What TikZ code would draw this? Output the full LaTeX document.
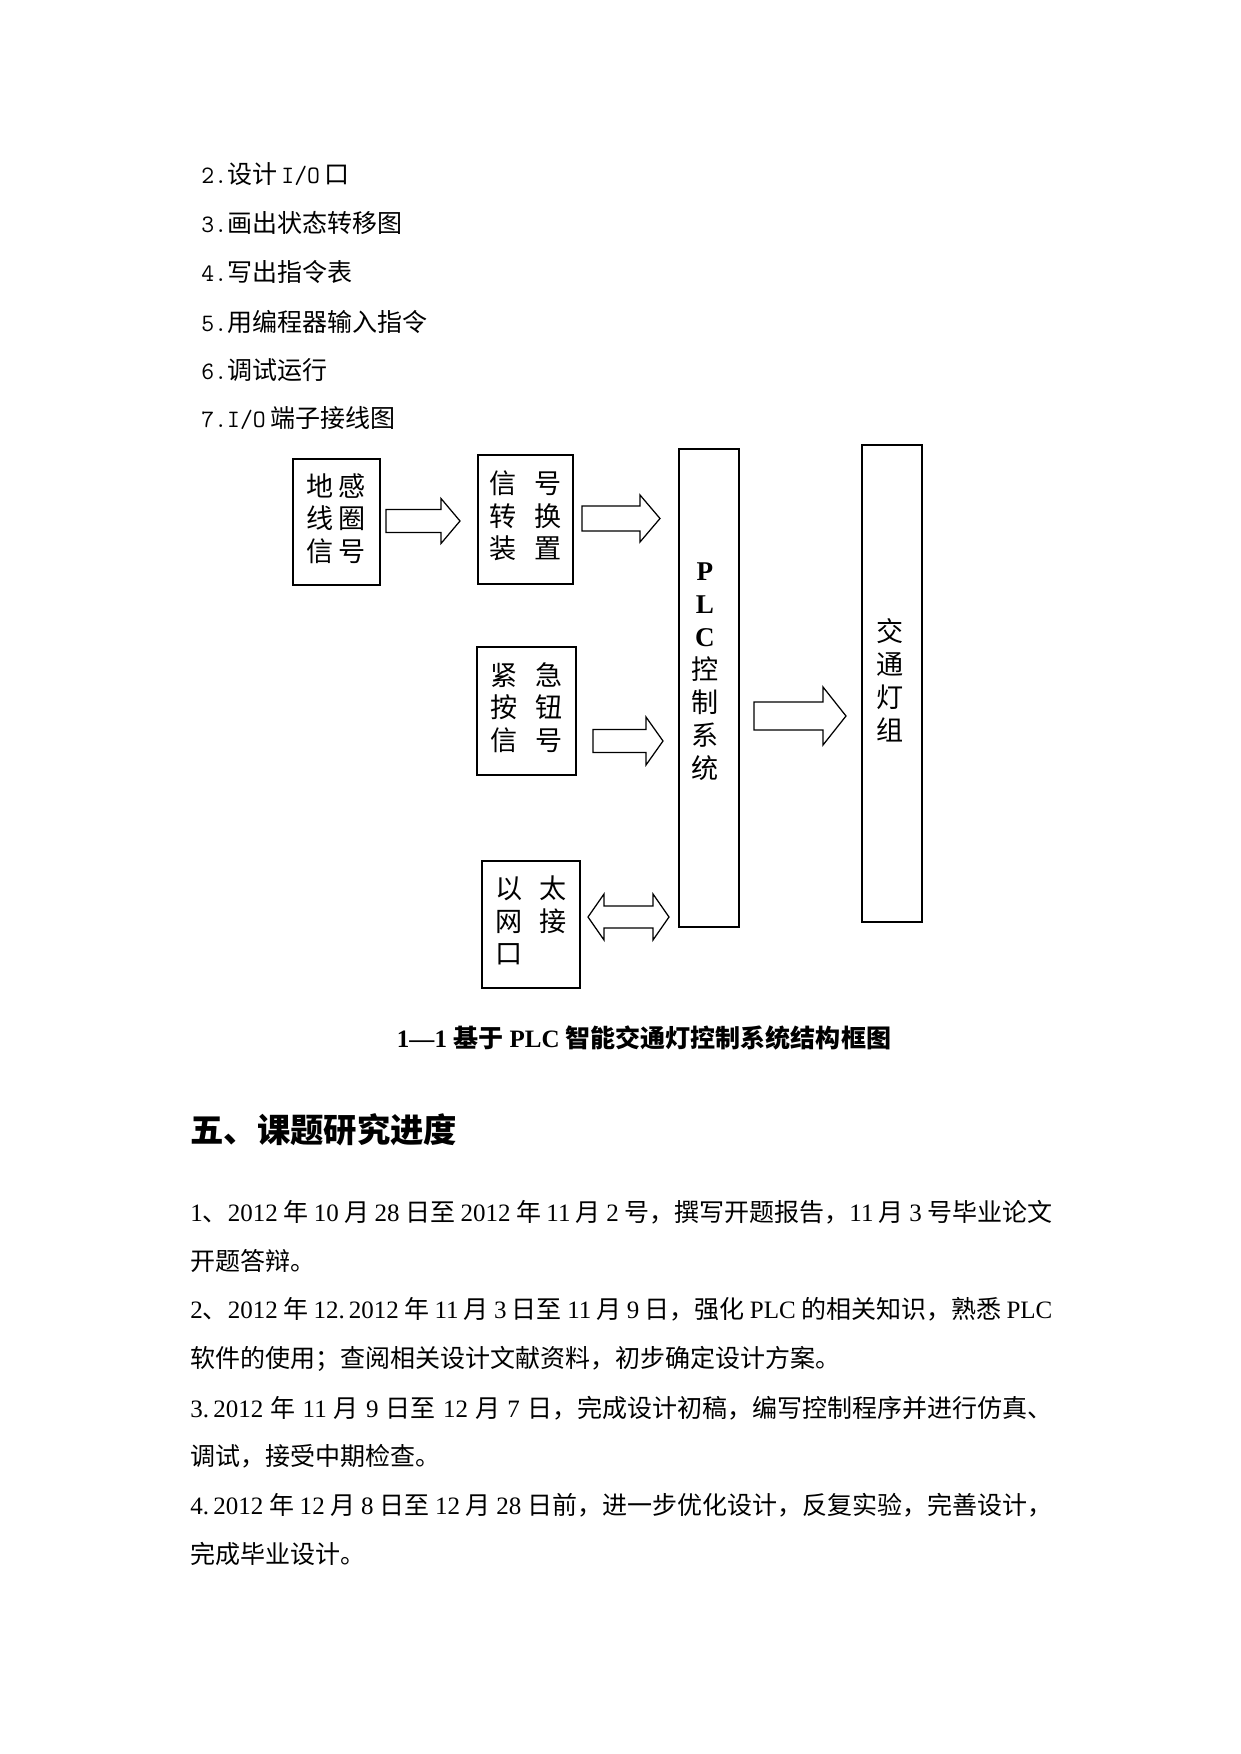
\documentclass[tikz,border=0pt]{standalone}
\usepackage{fontspec}
\setmainfont{Liberation Serif}
\newfontfamily\cjk{Noto Sans CJK SC}
\newcommand\zh[1]{{\cjk #1}}
\newcommand\pxu{0.4797pt}
% right-pointing block arrow: x0, head base x, tip x, centre y, half shaft, half head
\newcommand\rblockarrow[6]{\draw[barrow] (#1,#4-#5) -- (#2,#4-#5) -- (#2,#4-#6) -- (#3,#4) -- (#2,#4+#6) -- (#2,#4+#5) -- (#1,#4+#5) -- cycle;}
\begin{document}
\begin{tikzpicture}[x=0.4797pt,y=-0.4797pt,
  box/.style={draw, line width=1pt, inner sep=0pt, align=center},
  barrow/.style={draw, line width=0.6pt, line join=miter},
  boxtxt/.style={font=\fontsize{13}{15.5}\selectfont\cjk},
  tallTxt/.style={font=\fontsize{13}{15.8}\selectfont\cjk, inner sep=0pt},
  listline/.style={anchor=base west, inner sep=0pt, font=\fontsize{12}{14}\selectfont},
  bodyline/.style={anchor=base west, inner sep=0pt, font=\fontsize{12}{14}\selectfont},
]
\fill[white] (0,0) rectangle (1241,1754);
\useasboundingbox (0,0) rectangle (1241,1754);

% ---- numbered list ----
\node[listline] (l2) at (201,184) {{\ttfamily 2.}\zh{设计}\hspace{2pt}{\ttfamily I/O}\hspace{2pt}\zh{口}};
\node[listline] (l3) at (201,232) {{\ttfamily 3.}\zh{画出状态转移图}};
\node[listline] (l4) at (201,281) {{\ttfamily 4.}\zh{写出指令表}};
\node[listline] (l5) at (201,331) {{\ttfamily 5.}\zh{用编程器输入指令}};
\node[listline] (l6) at (201,379) {{\ttfamily 6.}\zh{调试运行}};
\node[listline] (l7) at (201,427) {{\ttfamily 7.I/O}\hspace{2pt}\zh{端子接线图}};

% ---- boxes ----
\node[box, boxtxt, minimum width=87*\pxu, minimum height=126*\pxu] (b1) at (336.5,522)
  {\begin{tabular}{@{}c@{\hspace{2.4pt}}c@{}}地&感\\线&圈\\信&号\end{tabular}};
\node[box, boxtxt, minimum width=95*\pxu, minimum height=129*\pxu] (b2) at (525.5,519.5)
  {\begin{tabular}{@{}c@{\hspace{8.6pt}}c@{}}信&号\\转&换\\装&置\end{tabular}};
\node[box, boxtxt, minimum width=99*\pxu, minimum height=128*\pxu] (b3) at (526.5,711)
  {\begin{tabular}{@{}c@{\hspace{8.6pt}}c@{}}紧&急\\按&钮\\信&号\end{tabular}};
\node[box, boxtxt, minimum width=98*\pxu, minimum height=127*\pxu] (b4) at (531,924.5)
  {\begin{tabular}{@{}c@{\hspace{7.7pt}}c@{}}以&太\\网&接\\口&\end{tabular}};
\node[box, minimum width=60*\pxu, minimum height=478*\pxu] (plc) at (709,688) {};
\node[tallTxt] (plcT) at (705,673)
  {\begin{tabular}{@{}c@{}}{\rmfamily\bfseries P}\\{\rmfamily\bfseries L}\\{\rmfamily\bfseries C}\\控\\制\\系\\统\end{tabular}};
\node[box, minimum width=60*\pxu, minimum height=477*\pxu] (light) at (892,683.5) {};
\node[tallTxt] (lightT) at (890,684)
  {\begin{tabular}{@{}c@{}}交\\通\\灯\\组\end{tabular}};

% ---- block arrows ----
\rblockarrow{386}{441}{460}{521}{11.5}{22.5}
\rblockarrow{582}{640}{660}{518.5}{12.5}{23.5}
\rblockarrow{593}{646}{663}{741}{11.5}{24}
\rblockarrow{754}{823}{846}{716}{14}{29}
\draw[barrow] (588,917) -- (604,894) -- (604,906) -- (653,906) -- (653,894) -- (669,917)
  -- (653,940) -- (653,928) -- (604,928) -- (604,940) -- cycle;

% ---- caption ----
\node[anchor=base, inner sep=0pt, font=\fontsize{12}{14}\selectfont\bfseries] (cap) at (644,1047)
  {1—1 \zh{基于} PLC \zh{智能交通灯控制系统结构框图}};

% ---- heading ----
\node[anchor=base west, inner sep=0pt, font=\fontsize{16}{19}\selectfont\bfseries\cjk] (h5) at (190,1142)
  {五、课题研究进度};

% ---- body ----
\node[bodyline] (p1) at (190,1221) {\makebox[413.5pt][s]{1\zh{、}2012 \zh{年} 10 \zh{月} 28 \zh{日至} 2012 \zh{年} 11 \zh{月} 2 \zh{号，撰写开题报告，}11 \zh{月} 3 \zh{号毕业论文}}};
\node[bodyline] (p2) at (190,1270) {\zh{开题答辩。}};
\node[bodyline] (p3) at (190,1318) {\makebox[413.5pt][s]{2\zh{、}2012 \zh{年} 12.\,2012 \zh{年} 11 \zh{月} 3 \zh{日至} 11 \zh{月} 9 \zh{日，强化} PLC \zh{的相关知识，熟悉} PLC}};
\node[bodyline] (p4) at (190,1367) {\zh{软件的使用；查阅相关设计文献资料，初步确定设计方案。}};
\node[bodyline] (p5) at (190,1417) {\makebox[413.5pt][s]{3.\,2012 \zh{年} 11 \zh{月} 9 \zh{日至} 12 \zh{月} 7 \zh{日，完成设计初稿，编写控制程序并进行仿真、}}};
\node[bodyline] (p6) at (190,1465) {\zh{调试，接受中期检查。}};
\node[bodyline] (p7) at (190,1514) {\makebox[413.5pt][s]{4.\,2012 \zh{年} 12 \zh{月} 8 \zh{日至} 12 \zh{月} 28 \zh{日前，进一步优化设计，反复实验，完善设计，}}};
\node[bodyline] (p8) at (190,1563) {\zh{完成毕业设计。}};
\end{tikzpicture}
\end{document}
